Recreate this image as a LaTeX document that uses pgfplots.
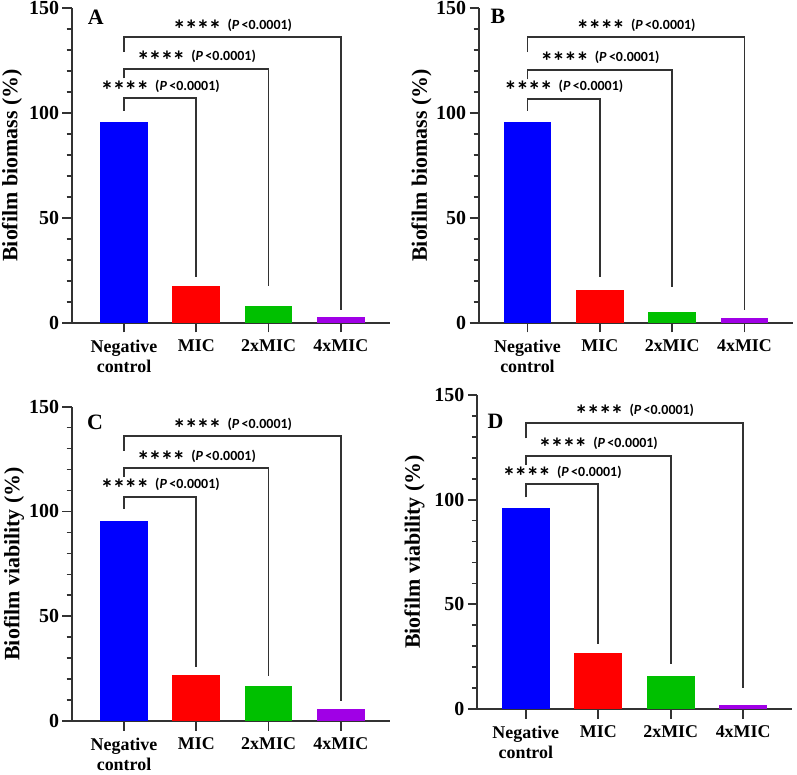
\documentclass[border=0pt]{standalone}
\usepackage{pgfplots}
\pgfplotsset{compat=1.18}
\usepackage{fontspec}
\setmainfont{Liberation Serif}
\newfontfamily\calib{Carlito}
\definecolor{cblue}{RGB}{0,0,255}
\definecolor{cred}{RGB}{255,0,0}
\definecolor{cgreen}{RGB}{0,192,0}
\definecolor{cpurple}{RGB}{160,0,230}
\definecolor{axgray}{RGB}{50,50,50}
\newcommand{\sig}{{\calib\bfseries\fontsize{26}{26}\selectfont\raisebox{-9bp}{*\kern-1bp*\kern-1bp*\kern-1bp*}}\hspace{6bp}{\calib\bfseries\fontsize{14}{14}\selectfont(\textit{P}\,<0.0001)}}
\newcommand{\tl}[1]{{\fontsize{20}{20}\selectfont\textbf{#1}}}
\pgfplotsset{
  panel/.style={
    scale only axis, axis x line=bottom, axis y line=left, ymin=0, ymax=150,
    ytick={0,50,100,150}, yticklabels={\tl{0},\tl{50},\tl{100},\tl{150}},
    minor ytick={10,20,30,40,60,70,80,90,110,120,130,140},
    xtick={0,1,2,3}, xticklabels={Negative\\control,MIC,2xMIC,4xMIC},
    xtick align=outside, ytick align=outside, major tick length=9.5bp, minor tick length=5.5bp,
    axis line style={-, line width=1.8bp, color=axgray},
    tick style={line width=1.8bp, color=axgray},
    minor tick style={line width=1.6bp, color=axgray},
    every y tick label/.append style={font=\fontsize{20}{20}\selectfont\bfseries},
    xticklabel style={align=center, font=\fontsize{18}{20}\selectfont\bfseries, yshift=-4bp},
    ylabel style={font=\fontsize{22}{22}\selectfont\bfseries, anchor=center},
    clip=false, anchor=south west,
  },
  bracket/.style={line width=1.8bp, color=axgray, mark=none},
}
\tikzset{
  sigtext/.style={anchor=base, yshift=8bp, inner sep=0pt},
  plabel/.style={font=\fontsize{22}{22}\selectfont\bfseries, anchor=center},
}
\begin{document}
\begin{tikzpicture}
\useasboundingbox (0,0) rectangle (797bp,775bp);
% Panel A
\begin{axis}[panel, at={(72bp,452bp)}, width=318bp, height=315bp, xmin=-0.72, xmax=3.68,
  ylabel={Biofilm biomass (\%)}, ylabel style={at={(axis description cs:-0.189,0.5)}}]
\addplot[ybar, bar shift=0pt, bar width=0.66, fill=cblue, draw=none] coordinates {(0,95.6)};
\addplot[ybar, bar shift=0pt, bar width=0.66, fill=cred, draw=none] coordinates {(1,17.8)};
\addplot[ybar, bar shift=0pt, bar width=0.66, fill=cgreen, draw=none] coordinates {(2,8)};
\addplot[ybar, bar shift=0pt, bar width=0.66, fill=cpurple, draw=none] coordinates {(3,2.9)};
\addplot[bracket] coordinates {(0,101) (0,107) (1,107) (1,22)};
\addplot[bracket] coordinates {(0,116.5) (0,121) (2,121) (2,17.5)};
\addplot[bracket] coordinates {(0,129) (0,136) (3,136) (3,6)};
\node[sigtext] at (axis cs:0.5,107) {\sig};
\node[sigtext] at (axis cs:1,121) {\sig};
\node[sigtext] at (axis cs:1.5,136) {\sig};
\node[plabel] at (axis cs:-0.39,145.7) {A};
\end{axis}
% Panel B
\begin{axis}[panel, at={(479bp,452bp)}, width=314bp, height=315bp, xmin=-0.67, xmax=3.67,
  ylabel={Biofilm biomass (\%)}, ylabel style={at={(axis description cs:-0.183,0.5)}}]
\addplot[ybar, bar shift=0pt, bar width=0.66, fill=cblue, draw=none] coordinates {(0,95.6)};
\addplot[ybar, bar shift=0pt, bar width=0.66, fill=cred, draw=none] coordinates {(1,15.9)};
\addplot[ybar, bar shift=0pt, bar width=0.66, fill=cgreen, draw=none] coordinates {(2,5.1)};
\addplot[ybar, bar shift=0pt, bar width=0.66, fill=cpurple, draw=none] coordinates {(3,2.5)};
\addplot[bracket] coordinates {(0,101) (0,106.7) (1,106.7) (1,22)};
\addplot[bracket] coordinates {(0,116) (0,120.5) (2,120.5) (2,17.3)};
\addplot[bracket] coordinates {(0,129) (0,136) (3,136) (3,6.2)};
\node[sigtext] at (axis cs:0.5,106.7) {\sig};
\node[sigtext] at (axis cs:1,120.5) {\sig};
\node[sigtext] at (axis cs:1.5,136) {\sig};
\node[plabel] at (axis cs:-0.41,146) {B};
\end{axis}
% Panel C
\begin{axis}[panel, at={(72bp,54bp)}, width=318bp, height=314.3bp, xmin=-0.72, xmax=3.68,
  ylabel={Biofilm viability (\%)}, ylabel style={at={(axis description cs:-0.182,0.5)}}]
\addplot[ybar, bar shift=0pt, bar width=0.66, fill=cblue, draw=none] coordinates {(0,95.6)};
\addplot[ybar, bar shift=0pt, bar width=0.66, fill=cred, draw=none] coordinates {(1,21.8)};
\addplot[ybar, bar shift=0pt, bar width=0.66, fill=cgreen, draw=none] coordinates {(2,16.9)};
\addplot[ybar, bar shift=0pt, bar width=0.66, fill=cpurple, draw=none] coordinates {(3,5.7)};
\addplot[bracket] coordinates {(0,101.2) (0,107) (1,107) (1,26)};
\addplot[bracket] coordinates {(0,116.6) (0,120.6) (2,120.6) (2,21.6)};
\addplot[bracket] coordinates {(0,129) (0,136) (3,136) (3,9.5)};
\node[sigtext] at (axis cs:0.5,107) {\sig};
\node[sigtext] at (axis cs:1,120.6) {\sig};
\node[sigtext] at (axis cs:1.5,136) {\sig};
\node[plabel] at (axis cs:-0.4,142.4) {C};
\end{axis}
% Panel D
\begin{axis}[panel, at={(477.3bp,66bp)}, width=314.4bp, height=314bp, xmin=-0.67, xmax=3.67,
  ylabel={Biofilm viability (\%)}, ylabel style={at={(axis description cs:-0.2,0.5)}}]
\addplot[ybar, bar shift=0pt, bar width=0.66, fill=cblue, draw=none] coordinates {(0,96)};
\addplot[ybar, bar shift=0pt, bar width=0.66, fill=cred, draw=none] coordinates {(1,26.9)};
\addplot[ybar, bar shift=0pt, bar width=0.66, fill=cgreen, draw=none] coordinates {(2,15.9)};
\addplot[ybar, bar shift=0pt, bar width=0.66, fill=cpurple, draw=none] coordinates {(3,1.9)};
\addplot[bracket] coordinates {(0,101.1) (0,107.3) (1,107.3) (1,30.9)};
\addplot[bracket] coordinates {(0,116.6) (0,121) (2,121) (2,21.7)};
\addplot[bracket] coordinates {(0,129.3) (0,136.8) (3,136.8) (3,9.9)};
\node[sigtext] at (axis cs:0.5,107.3) {\sig};
\node[sigtext] at (axis cs:1,121) {\sig};
\node[sigtext] at (axis cs:1.5,136.8) {\sig};
\node[plabel] at (axis cs:-0.42,137.3) {D};
\end{axis}
\end{tikzpicture}
\end{document}
